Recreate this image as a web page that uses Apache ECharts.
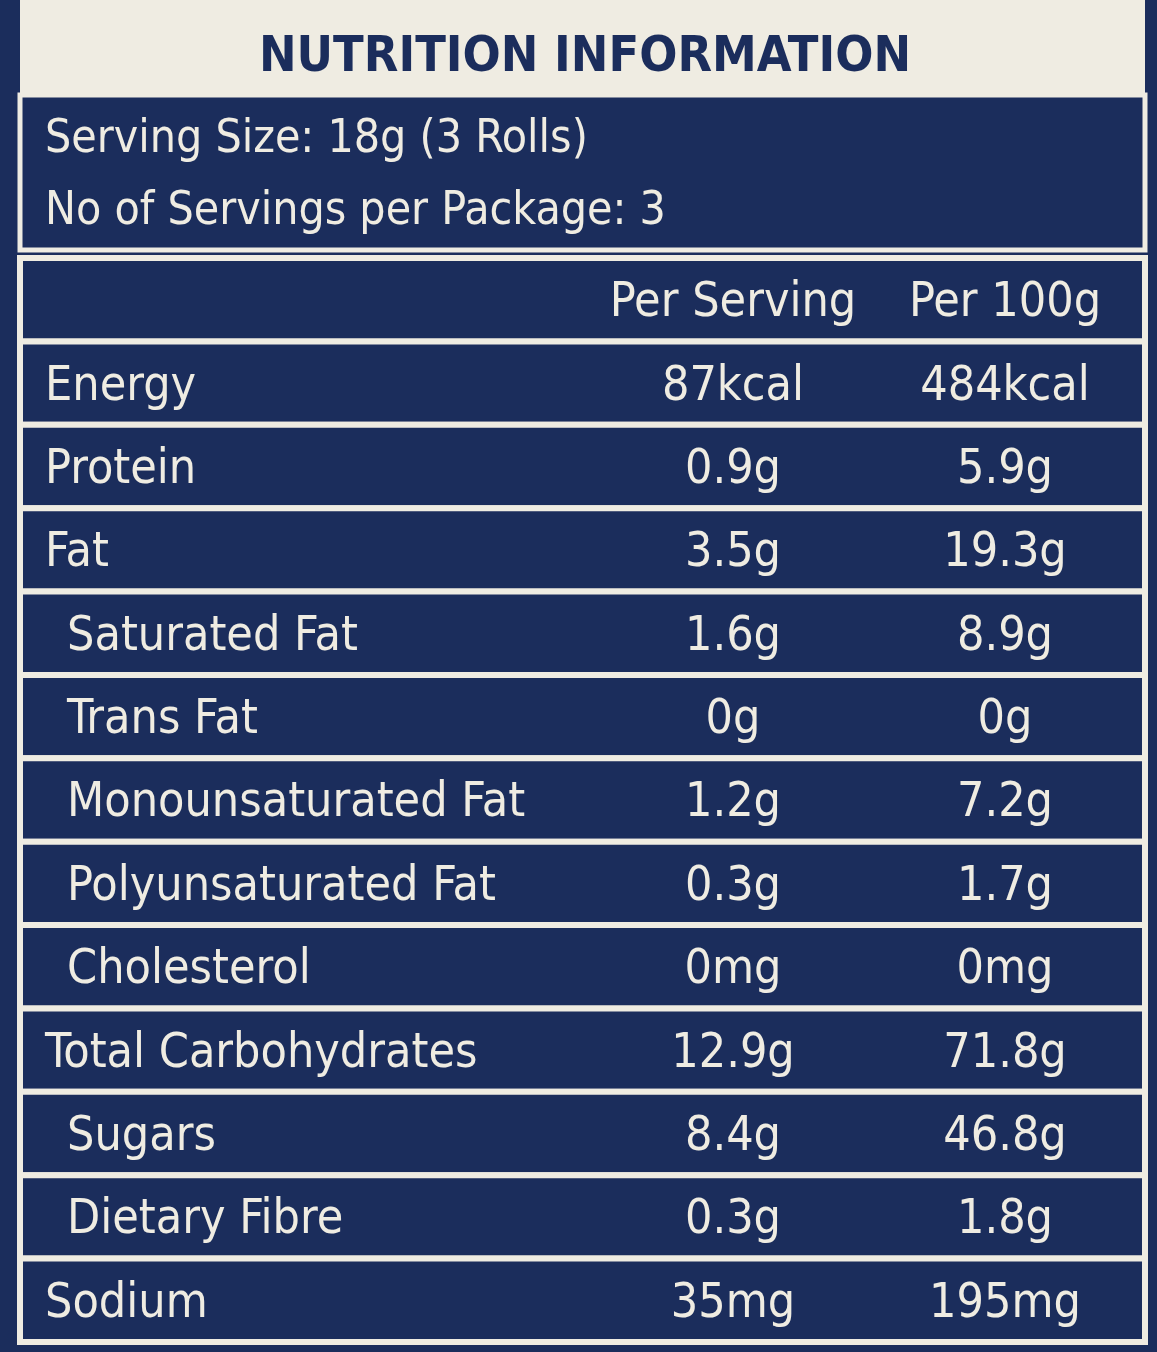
<!DOCTYPE html>
<html><head><meta charset="utf-8">
<script src="https://cdn.jsdelivr.net/npm/echarts@6/dist/echarts.min.js"></script>
<style>html,body{margin:0;padding:0;background:#1b2d5c}#c{width:1157px;height:1352px}</style>
</head><body><div id="c"></div>
<script>
const title = "NUTRITION INFORMATION";
const servingLines = ["Serving Size: 18g (3 Rolls)", "No of Servings per Package: 3"];
const headers = ["", "Per Serving", "Per 100g"];
const nutrients = ["Energy","Protein","Fat","Saturated Fat","Trans Fat","Monounsaturated Fat","Polyunsaturated Fat","Cholesterol","Total Carbohydrates","Sugars","Dietary Fibre","Sodium"];
const subLevel = [0,0,0,1,1,1,1,1,0,1,1,0];
const perServing = ["87kcal","0.9g","3.5g","1.6g","0g","1.2g","0.3g","0mg","12.9g","8.4g","0.3g","35mg"];
const per100g = ["484kcal","5.9g","19.3g","8.9g","0g","7.2g","1.7g","0mg","71.8g","46.8g","1.8g","195mg"];

const rows = [headers].concat(nutrients.map((n,i)=>[n, perServing[i], per100g[i]]));
const rowIdx = rows.map((_,i)=>String(i));
const NAVY="#1b2d5c", CREAM="#efece2";
const FONT="'DejaVu Sans Condensed','Liberation Sans Narrow',sans-serif";

const chart = echarts.init(document.getElementById('c'));
chart.setOption({
  backgroundColor: NAVY,
  animation:false,
  grid:{left:20,right:12,top:258,bottom:10},
  xAxis:{type:'value',min:0,max:1,show:false},
  yAxis:{type:'category',data:rowIdx,inverse:true,show:false},
  graphic:[
    {type:'rect',shape:{x:0,y:0,width:1145,height:95},style:{fill:CREAM}},
    {type:'rect',shape:{x:0,y:0,width:20,height:1352},style:{fill:NAVY}},
    {type:'text',x:585,y:58,style:{text:title,fill:NAVY,font:"bold 50px "+FONT,align:'center',verticalAlign:'middle'}},
    {type:'rect',shape:{x:20,y:95,width:1125,height:155},style:{fill:NAVY,stroke:CREAM,lineWidth:5}},
    {type:'text',x:45,y:140,style:{text:servingLines[0],fill:CREAM,font:"46px "+FONT,verticalAlign:'middle'}},
    {type:'text',x:45,y:212,style:{text:servingLines[1],fill:CREAM,font:"46px "+FONT,verticalAlign:'middle'}}
  ],
  series:[{
    type:'custom',
    data:rows.map((r,i)=>[0,i]),
    renderItem:function(params,api){
      const i=api.value(1);
      const c=api.coord([0,i]);
      const c1=api.coord([1,i]);
      const h=api.size([0,1])[1];
      const top=c[1]-h/2;
      const r=rows[i];
      const indent = i>0 && subLevel[i-1] ? 22 : 0;
      const ty=c[1]+4;
      return {type:'group',children:[
        {type:'rect',shape:{x:c[0],y:top,width:c1[0]-c[0],height:h},style:{fill:NAVY,stroke:CREAM,lineWidth:6}},
        {type:'text',x:c[0]+25+indent,y:ty,style:{text:r[0],fill:CREAM,font:"48px "+FONT,verticalAlign:'middle'}},
        {type:'text',x:c[0]+713,y:ty,style:{text:r[1],fill:CREAM,font:"48px "+FONT,align:'center',verticalAlign:'middle'}},
        {type:'text',x:c[0]+985,y:ty,style:{text:r[2],fill:CREAM,font:"48px "+FONT,align:'center',verticalAlign:'middle'}}
      ]};
    }
  }]
});
</script></body></html>
